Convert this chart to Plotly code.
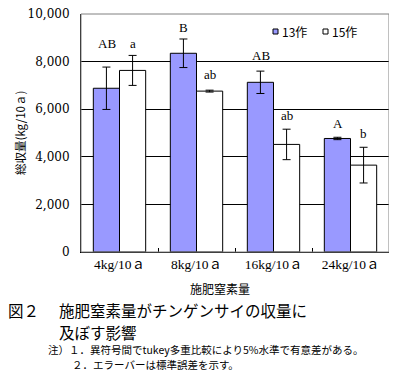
import plotly.graph_objects as go

categories = ["4kg/10ａ", "8kg/10ａ", "16kg/10ａ", "24kg/10ａ"]
crop13 = [6880, 8350, 7130, 4770]
crop13_err = [890, 600, 470, 50]
crop15 = [7630, 6760, 4520, 3650]
crop15_err = [630, 40, 640, 750]
labels13 = ["AB", "B", "AB", "A"]
labels15 = ["a", "ab", "ab", "b"]
series_names = ["13作", "15作"]
series_colors = ["#9999FF", "white"]
yticks = [0, 2000, 4000, 6000, 8000, 10000]

serif = "DejaVu Serif, Noto Sans CJK JP, serif"
serif2 = "Liberation Serif, Noto Sans CJK JP, serif"
jp = "Noto Sans CJK JP, sans-serif"

# the page body has an 8px margin, so the figure is sized to fit inside it
W, H = 381, 365
ML, MR, MT, MB = 73, 0, 6, 121
PW, PH = W - ML - MR, H - MT - MB
OFF = 8  # page offset of the figure

fig = go.Figure()
fig.add_trace(go.Bar(
    name=series_names[0], x=categories, y=crop13, showlegend=False,
    marker=dict(color=series_colors[0], line=dict(color="black", width=1)),
    error_y=dict(type="data", array=crop13_err, color="black", thickness=1, width=4),
))
fig.add_trace(go.Bar(
    name=series_names[1], x=categories, y=crop15, showlegend=False,
    marker=dict(color=series_colors[1], line=dict(color="black", width=1)),
    error_y=dict(type="data", array=crop15_err, color="black", thickness=1, width=4),
))

ann = []
extra13 = [14, 2, 6, 4]
extra15 = [2, 6, 4, 4]
for i, c in enumerate(categories):
    ann.append(dict(x=c, y=crop13[i] + crop13_err[i], xref="x", yref="y", text=labels13[i],
                    showarrow=False, xshift=-13, yanchor="bottom", yshift=extra13[i],
                    font=dict(family=serif2, size=13, color="black")))
    ann.append(dict(x=c, y=crop15[i] + crop15_err[i], xref="x", yref="y", text=labels15[i],
                    showarrow=False, xshift=13, yanchor="bottom", yshift=extra15[i],
                    font=dict(family=serif2, size=13, color="black")))

def pxx(px):  # page x pixel -> paper
    return (px - OFF - ML) / PW

def py(px):  # page y pixel -> paper
    return (MT + PH - (px - OFF)) / PH

# manual legend (small squares + labels)
shapes = [dict(type="rect", xref="paper", yref="paper", x0=0, x1=1, y0=0, y1=1,
               line=dict(color="#808080", width=1), layer="above")]
leg_x = [273, 323]
for k in range(2):
    shapes.append(dict(type="rect", xref="paper", yref="paper",
                       x0=pxx(leg_x[k]), x1=pxx(leg_x[k] + 5), y0=py(34), y1=py(29),
                       fillcolor=series_colors[k], line=dict(color="black", width=1), layer="above"))
    ann.append(dict(x=pxx(leg_x[k] + 7), y=py(31.5), xref="paper", yref="paper", text=series_names[k],
                    showarrow=False, font=dict(family=jp, size=12, color="black"),
                    xanchor="left", yanchor="middle"))

ann.append(dict(x=pxx(20), y=py(133), xref="paper", yref="paper", text="総収量(kg/10ａ)",
                textangle=-90, showarrow=False, font=dict(family=jp, size=11.5, color="black"),
                xanchor="center", yanchor="middle"))
ann.append(dict(x=pxx(220), y=py(288), xref="paper", yref="paper", text="施肥窒素量",
                showarrow=False, font=dict(family=jp, size=12, color="black"),
                xanchor="center", yanchor="middle"))
ann.append(dict(x=pxx(6), y=py(310), xref="paper", yref="paper", text="図２",
                showarrow=False, font=dict(family=jp, size=15.5, color="black"),
                xanchor="left", yanchor="middle"))
ann.append(dict(x=pxx(57), y=py(310), xref="paper", yref="paper",
                text="施肥窒素量がチンゲンサイの収量に",
                showarrow=False, font=dict(family=jp, size=15.5, color="black"),
                xanchor="left", yanchor="middle"))
ann.append(dict(x=pxx(57), y=py(332), xref="paper", yref="paper",
                text="及ぼす影響",
                showarrow=False, font=dict(family=jp, size=15.5, color="black"),
                xanchor="left", yanchor="middle"))
ann.append(dict(x=pxx(46), y=py(349), xref="paper", yref="paper",
                text="注）１．異符号間でtukey多重比較により5%水準で有意差がある。",
                showarrow=False, font=dict(family=jp, size=10.5, color="black"),
                xanchor="left", yanchor="middle"))
ann.append(dict(x=pxx(70), y=py(364), xref="paper", yref="paper",
                text="２．エラーバーは標準誤差を示す。",
                showarrow=False, font=dict(family=jp, size=10.5, color="black"),
                xanchor="left", yanchor="middle"))

fig.update_layout(
    width=W, height=H,
    margin=dict(l=ML, r=MR, t=MT, b=MB, pad=0, autoexpand=False),
    paper_bgcolor="white", plot_bgcolor="white",
    barmode="group", bargap=0.32, bargroupgap=0,
    showlegend=False,
    annotations=ann,
    shapes=shapes,
    xaxis=dict(showline=True, linecolor="black", linewidth=1, ticks="inside",
               tickson="boundaries", ticklen=4, tickcolor="black",
               tickfont=dict(family=serif2, size=13.5, color="black"), showgrid=False),
    yaxis=dict(range=[0, 10000], tickvals=yticks, ticktext=[f"{v:,}" for v in yticks],
               showline=True, linecolor="black", linewidth=1, showgrid=True,
               gridcolor="black", gridwidth=1, ticks="outside", ticklen=8,
               tickcolor="rgba(0,0,0,0)", zeroline=False, ticklabeloverflow="allow",
               tickfont=dict(family=serif, size=12, color="black")),
)

fig.write_html("out.html")
